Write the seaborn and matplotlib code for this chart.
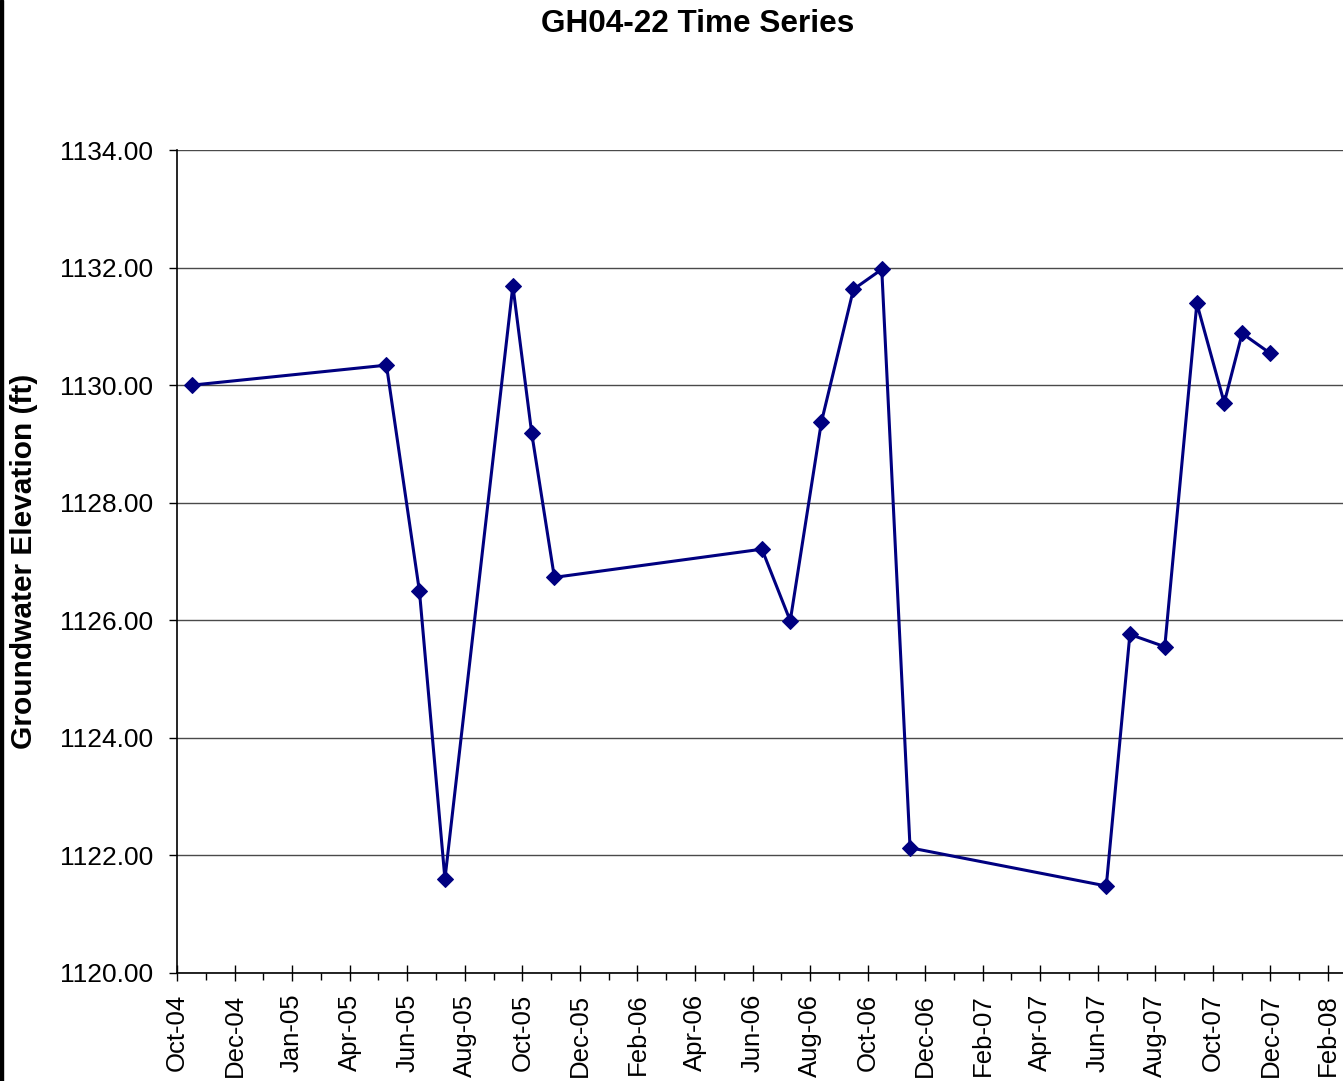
import matplotlib
matplotlib.use("Agg")
import matplotlib.pyplot as plt
import matplotlib.dates as mdates
from matplotlib.ticker import FixedLocator, FixedFormatter, FormatStrFormatter
from matplotlib.patches import Rectangle
import seaborn as sns
import pandas as pd

# ---- data ----
dates = ["2004-10-17", "2005-05-11", "2005-06-15", "2005-07-12", "2005-09-22",
         "2005-10-12", "2005-11-05", "2006-06-13", "2006-07-13", "2006-08-15",
         "2006-09-18", "2006-10-18", "2006-11-17", "2007-06-13", "2007-07-08",
         "2007-08-14", "2007-09-17", "2007-10-16", "2007-11-04", "2007-12-03"]
elevation = [1130.00, 1130.34, 1126.49, 1121.60, 1131.69,
             1129.18, 1126.73, 1127.21, 1125.99, 1129.37,
             1131.63, 1131.97, 1122.13, 1121.48, 1125.76,
             1125.55, 1131.39, 1129.70, 1130.88, 1130.55]
x_tick_labels = ["Oct-04", "Dec-04", "Jan-05", "Apr-05", "Jun-05", "Aug-05", "Oct-05",
                 "Dec-05", "Feb-06", "Apr-06", "Jun-06", "Aug-06", "Oct-06", "Dec-06",
                 "Feb-07", "Apr-07", "Jun-07", "Aug-07", "Oct-07", "Dec-07", "Feb-08"]
y_ticks = [1120, 1122, 1124, 1126, 1128, 1130, 1132, 1134]
title = "GH04-22 Time Series"
y_label = "Groundwater Elevation (ft)"

df = pd.DataFrame({"date": pd.to_datetime(dates), "elev": elevation})

sns.set_theme(style="white")
plt.rcParams["font.family"] = ["Liberation Sans", "DejaVu Sans"]
plt.rcParams["text.color"] = "black"
plt.rcParams["axes.labelcolor"] = "black"
plt.rcParams["xtick.color"] = "black"
plt.rcParams["ytick.color"] = "black"

W, H = 1343, 1081
fig = plt.figure(figsize=(W / 100, H / 100), dpi=100)
ax = fig.add_axes([177 / W, 1 - 973 / H, (W - 177) / W, (973 - 150) / H])

sns.lineplot(data=df, x="date", y="elev", ax=ax, color="#000080", linewidth=2.2,
             marker="D", markersize=8.5, markeredgecolor="#000080",
             markerfacecolor="#000080", estimator=None, sort=False)

# x axis: Excel-like date axis, major unit 61 days starting Oct 1 2004
start = mdates.date2num(pd.Timestamp("2004-10-01"))
step = 61.0
major = [start + step * i for i in range(len(x_tick_labels))]
minor = [start + step * (i + 0.5) for i in range(len(x_tick_labels))]
px_per_step = (1328 - 177) / (len(x_tick_labels) - 1)
right = start + (W - 177) / px_per_step * step
ax.set_xlim(start, right)
ax.xaxis.set_major_locator(FixedLocator(major))
ax.xaxis.set_major_formatter(FixedFormatter(x_tick_labels))
ax.xaxis.set_minor_locator(FixedLocator(minor))

ax.set_ylim(1120, 1134)
ax.yaxis.set_major_locator(FixedLocator(y_ticks))
ax.yaxis.set_major_formatter(FormatStrFormatter("%.2f"))

ax.yaxis.grid(True, color="#4a4a4a", linewidth=1.0)
ax.xaxis.grid(False)
ax.set_axisbelow(True)

for s in ["top", "right"]:
    ax.spines[s].set_visible(False)
for s in ["left", "bottom"]:
    ax.spines[s].set_color("black")
    ax.spines[s].set_linewidth(1.2)

ax.tick_params(axis="x", which="major", direction="inout", length=12, width=1.0,
               color="black", labelsize=18.5, pad=9, labelrotation=90, bottom=True)
ax.tick_params(axis="x", which="minor", direction="out", length=5, width=1.0,
               color="black", bottom=True)
ax.tick_params(axis="y", which="major", direction="out", length=6, width=1.0,
               color="black", labelsize=19, pad=11, left=True)
for lbl in ax.get_xticklabels():
    lbl.set_va("top")

ax.set_xlabel("")
ax.set_ylabel("")
fig.text(24 / W, 1 - 561 / H, y_label, fontsize=21.5, fontweight="bold",
         rotation=90, ha="center", va="center")

fig.text(698 / W, 1 - 24 / H, title, fontsize=22.7, fontweight="bold",
         ha="center", va="center")

fig.add_artist(Rectangle((0, 0), 3 / W, 1, transform=fig.transFigure,
                         color="black", zorder=10))

fig.savefig("out.png", dpi=100)
